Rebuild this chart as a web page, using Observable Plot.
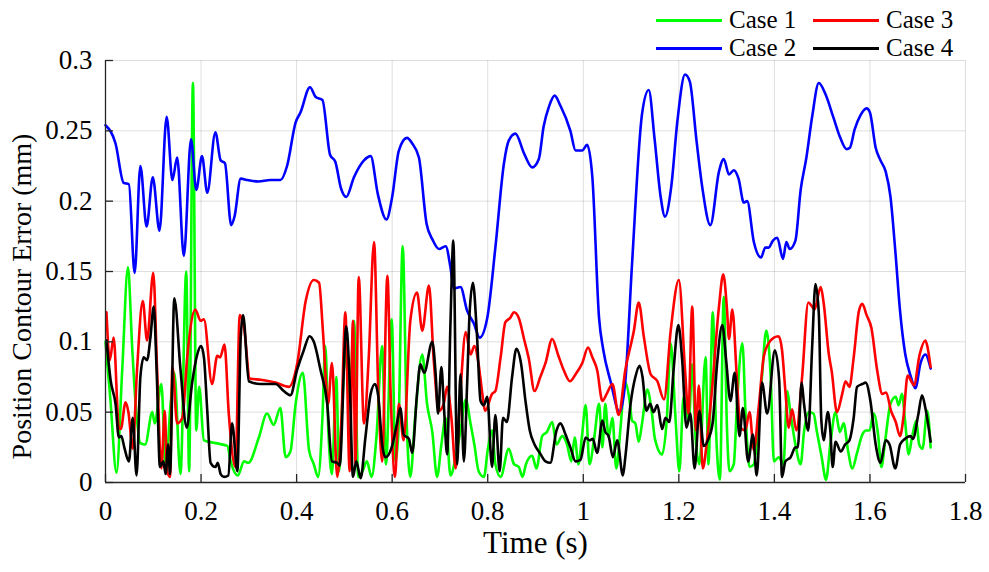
<!DOCTYPE html>
<html>
<head>
<meta charset="utf-8">
<script src="https://cdn.jsdelivr.net/npm/d3@7"></script>
<script src="https://cdn.jsdelivr.net/npm/@observablehq/plot@0.6"></script>
<style>
  html, body { margin: 0; padding: 0; background: #fff; }
  #wrap { position: relative; width: 989px; height: 572px; font-family: "Liberation Serif", "Times New Roman", serif; }
  #legend { position: absolute; left: 656px; top: 6px; display: grid; grid-template-columns: 157px auto; }
  .entry { display: flex; align-items: center; height: 28px; }
  .sw { display: inline-block; width: 66px; height: 0; border-top: 3px solid; margin-right: 7px; }
  .lab { font-size: 25px; line-height: 28px; color: #000; }
</style>
</head>
<body>
<div id="wrap">
  <div id="chart"></div>
  <div id="legend"></div>
</div>
<script>
const seriesNames = ["Case 1", "Case 2", "Case 3", "Case 4"];
const seriesColors = ["#00ff00", "#0000ff", "#ff0000", "#000000"];
const legendOrder = ["Case 1", "Case 3", "Case 2", "Case 4"];
const xTicks = [0, 0.2, 0.4, 0.6, 0.8, 1, 1.2, 1.4, 1.6, 1.8];
const yTicks = [0, 0.05, 0.1, 0.15, 0.2, 0.25, 0.3];
const xLabel = "Time (s)";
const yLabel = "Position Contour Error (mm)";

// Case 1 (green)
const case1T = [0.000,0.010,0.023,0.035,0.047,0.056,0.063,0.073,0.083,0.098,0.103,0.117,0.126,0.136,0.144,0.157,0.169,0.175,0.183,0.190,0.196,0.206,0.230,0.255,0.262,0.277,0.290,0.299,0.321,0.338,0.352,0.366,0.377,0.387,0.398,0.413,0.426,0.436,0.445,0.454,0.460,0.467,0.474,0.483,0.489,0.496,0.502,0.511,0.520,0.529,0.538,0.547,0.557,0.567,0.579,0.587,0.599,0.607,0.613,0.622,0.631,0.638,0.648,0.663,0.673,0.684,0.694,0.703,0.712,0.722,0.733,0.743,0.754,0.764,0.772,0.781,0.792,0.800,0.809,0.816,0.827,0.844,0.855,0.865,0.873,0.880,0.893,0.902,0.914,0.924,0.935,0.944,0.956,0.966,0.975,0.982,0.990,0.997,1.005,1.013,1.023,1.033,1.040,1.046,1.053,1.061,1.069,1.078,1.087,1.097,1.102,1.109,1.116,1.123,1.134,1.143,1.150,1.165,1.175,1.183,1.193,1.201,1.210,1.221,1.228,1.235,1.243,1.256,1.262,1.271,1.278,1.286,1.294,1.301,1.306,1.315,1.322,1.333,1.340,1.348,1.357,1.366,1.374,1.383,1.392,1.399,1.409,1.419,1.427,1.433,1.444,1.455,1.462,1.472,1.482,1.489,1.499,1.508,1.517,1.528,1.537,1.545,1.554,1.563,1.573,1.584,1.592,1.599,1.608,1.617,1.624,1.632,1.643,1.654,1.660,1.667,1.674,1.681,1.688,1.697,1.703,1.710,1.720,1.727];
const case1V = [0.100,0.060,0.007,0.080,0.153,0.095,0.056,0.028,0.027,0.050,0.042,0.070,0.008,0.055,0.078,0.006,0.150,0.008,0.284,0.037,0.068,0.030,0.028,0.026,0.015,0.005,0.015,0.014,0.032,0.049,0.041,0.053,0.018,0.022,0.056,0.078,0.023,0.013,0.004,0.046,0.097,0.032,0.006,0.075,0.008,0.060,0.094,0.060,0.115,0.004,0.008,0.015,0.004,0.032,0.097,0.013,0.116,0.015,0.036,0.168,0.037,0.004,0.046,0.091,0.056,0.036,0.004,0.027,0.046,0.005,0.018,0.037,0.059,0.042,0.027,0.008,0.004,0.023,0.037,0.013,0.004,0.024,0.013,0.011,0.004,0.013,0.019,0.010,0.033,0.036,0.043,0.027,0.033,0.027,0.015,0.032,0.013,0.032,0.055,0.013,0.032,0.056,0.025,0.056,0.032,0.046,0.010,0.039,0.072,0.058,0.044,0.042,0.029,0.042,0.066,0.051,0.031,0.020,0.046,0.099,0.046,0.008,0.061,0.044,0.084,0.032,0.013,0.089,0.013,0.121,0.036,0.002,0.132,0.036,0.008,0.013,0.058,0.099,0.046,0.011,0.013,0.039,0.075,0.108,0.077,0.015,0.018,0.013,0.065,0.051,0.027,0.013,0.036,0.050,0.049,0.036,0.018,0.002,0.027,0.050,0.036,0.042,0.023,0.010,0.021,0.034,0.037,0.037,0.049,0.034,0.011,0.030,0.056,0.061,0.055,0.063,0.042,0.020,0.032,0.044,0.027,0.024,0.051,0.025];

// Case 2 (blue)
const case2T = [0.000,0.021,0.038,0.049,0.061,0.073,0.086,0.099,0.113,0.128,0.140,0.150,0.164,0.179,0.190,0.202,0.213,0.230,0.241,0.250,0.263,0.270,0.283,0.297,0.320,0.345,0.366,0.380,0.398,0.408,0.428,0.440,0.454,0.470,0.481,0.493,0.504,0.520,0.541,0.555,0.570,0.588,0.600,0.614,0.631,0.642,0.656,0.672,0.684,0.698,0.712,0.722,0.729,0.743,0.757,0.771,0.783,0.799,0.816,0.834,0.844,0.858,0.876,0.893,0.907,0.917,0.928,0.940,0.952,0.973,0.984,0.998,1.008,1.019,1.033,1.042,1.057,1.076,1.088,1.102,1.123,1.137,1.149,1.162,1.171,1.184,1.197,1.213,1.223,1.237,1.249,1.266,1.284,1.294,1.305,1.315,1.325,1.336,1.343,1.357,1.372,1.381,1.388,1.397,1.406,1.418,1.425,1.432,1.444,1.455,1.467,1.479,1.493,1.507,1.524,1.538,1.551,1.558,1.568,1.580,1.593,1.600,1.612,1.622,1.633,1.643,1.653,1.663,1.674,1.685,1.695,1.706,1.716,1.727];
const case2V = [0.254,0.241,0.213,0.212,0.149,0.225,0.182,0.217,0.179,0.260,0.215,0.231,0.161,0.244,0.208,0.232,0.206,0.249,0.229,0.227,0.183,0.189,0.216,0.215,0.214,0.215,0.215,0.225,0.256,0.263,0.281,0.274,0.272,0.233,0.228,0.209,0.203,0.217,0.229,0.232,0.205,0.187,0.203,0.236,0.245,0.241,0.231,0.184,0.173,0.166,0.168,0.153,0.138,0.139,0.122,0.113,0.103,0.117,0.167,0.227,0.243,0.248,0.234,0.224,0.230,0.253,0.267,0.275,0.268,0.250,0.236,0.236,0.240,0.217,0.117,0.094,0.072,0.050,0.072,0.155,0.262,0.279,0.245,0.203,0.189,0.210,0.257,0.290,0.285,0.243,0.210,0.183,0.221,0.230,0.219,0.222,0.216,0.199,0.200,0.171,0.160,0.167,0.167,0.172,0.174,0.159,0.171,0.166,0.172,0.208,0.231,0.260,0.284,0.276,0.259,0.245,0.237,0.238,0.251,0.261,0.266,0.263,0.238,0.229,0.221,0.203,0.165,0.122,0.091,0.076,0.067,0.085,0.091,0.081];

// Case 3 (red)
const case3T = [0.002,0.009,0.017,0.028,0.032,0.042,0.048,0.057,0.066,0.078,0.087,0.100,0.108,0.117,0.124,0.129,0.135,0.140,0.150,0.161,0.171,0.188,0.199,0.206,0.223,0.234,0.240,0.249,0.258,0.272,0.281,0.290,0.302,0.325,0.356,0.384,0.401,0.419,0.436,0.447,0.455,0.466,0.474,0.485,0.494,0.502,0.511,0.518,0.523,0.530,0.541,0.551,0.562,0.571,0.579,0.590,0.597,0.606,0.614,0.624,0.638,0.652,0.663,0.677,0.687,0.698,0.708,0.715,0.724,0.733,0.743,0.754,0.764,0.772,0.781,0.788,0.795,0.809,0.816,0.827,0.837,0.847,0.855,0.865,0.876,0.886,0.898,0.910,0.921,0.935,0.947,0.959,0.972,0.984,0.998,1.010,1.019,1.029,1.040,1.049,1.061,1.074,1.088,1.106,1.116,1.127,1.141,1.155,1.169,1.183,1.200,1.213,1.220,1.228,1.236,1.242,1.250,1.259,1.270,1.284,1.293,1.301,1.305,1.312,1.321,1.329,1.339,1.348,1.357,1.367,1.378,1.388,1.399,1.409,1.416,1.423,1.430,1.437,1.446,1.458,1.471,1.479,1.484,1.497,1.503,1.514,1.520,1.531,1.542,1.549,1.557,1.566,1.577,1.584,1.593,1.603,1.615,1.626,1.634,1.644,1.654,1.663,1.670,1.679,1.688,1.692,1.704,1.716,1.720,1.727];
const case3V = [0.121,0.087,0.103,0.039,0.038,0.057,0.050,0.024,0.080,0.129,0.101,0.149,0.080,0.010,0.051,0.008,0.004,0.082,0.042,0.046,0.089,0.123,0.115,0.116,0.070,0.090,0.089,0.098,0.049,0.011,0.119,0.110,0.074,0.073,0.071,0.068,0.084,0.129,0.144,0.142,0.108,0.056,0.085,0.004,0.046,0.121,0.008,0.115,0.013,0.146,0.042,0.089,0.171,0.065,0.015,0.147,0.061,0.004,0.056,0.030,0.115,0.135,0.108,0.140,0.087,0.051,0.056,0.068,0.046,0.010,0.065,0.107,0.091,0.097,0.084,0.065,0.051,0.063,0.065,0.089,0.114,0.117,0.121,0.117,0.102,0.088,0.065,0.075,0.085,0.102,0.091,0.080,0.072,0.077,0.085,0.096,0.089,0.080,0.058,0.063,0.070,0.048,0.080,0.108,0.128,0.103,0.077,0.072,0.059,0.108,0.144,0.080,0.049,0.125,0.037,0.069,0.010,0.030,0.068,0.125,0.148,0.122,0.102,0.123,0.077,0.039,0.037,0.050,0.023,0.053,0.090,0.099,0.103,0.104,0.094,0.065,0.039,0.052,0.037,0.075,0.128,0.125,0.123,0.139,0.128,0.091,0.079,0.050,0.063,0.072,0.068,0.089,0.122,0.127,0.119,0.110,0.080,0.063,0.064,0.051,0.043,0.033,0.046,0.076,0.071,0.069,0.091,0.101,0.097,0.082];

// Case 4 (black)
const case4T = [0.002,0.011,0.021,0.028,0.033,0.040,0.049,0.057,0.065,0.073,0.080,0.087,0.094,0.101,0.107,0.114,0.121,0.126,0.131,0.135,0.144,0.157,0.170,0.181,0.192,0.200,0.206,0.213,0.220,0.230,0.235,0.241,0.248,0.257,0.265,0.276,0.283,0.288,0.300,0.324,0.356,0.373,0.387,0.401,0.415,0.427,0.436,0.450,0.464,0.474,0.485,0.490,0.504,0.511,0.518,0.525,0.534,0.544,0.555,0.564,0.571,0.579,0.586,0.599,0.610,0.617,0.624,0.635,0.642,0.652,0.659,0.667,0.684,0.691,0.696,0.703,0.708,0.715,0.722,0.728,0.736,0.743,0.750,0.757,0.762,0.769,0.777,0.785,0.792,0.799,0.809,0.816,0.825,0.832,0.840,0.851,0.860,0.870,0.879,0.888,0.898,0.909,0.921,0.931,0.944,0.952,0.963,0.973,0.984,0.994,1.005,1.013,1.020,1.029,1.040,1.046,1.053,1.062,1.071,1.083,1.088,1.099,1.109,1.118,1.124,1.132,1.140,1.147,1.155,1.165,1.172,1.180,1.189,1.199,1.207,1.216,1.224,1.233,1.243,1.252,1.262,1.271,1.280,1.291,1.299,1.308,1.317,1.327,1.334,1.345,1.355,1.363,1.374,1.385,1.401,1.410,1.416,1.423,1.434,1.444,1.449,1.457,1.462,1.471,1.479,1.486,1.493,1.498,1.503,1.512,1.517,1.522,1.528,1.539,1.548,1.557,1.566,1.573,1.584,1.591,1.601,1.612,1.622,1.633,1.641,1.653,1.663,1.673,1.685,1.690,1.701,1.709,1.716,1.727];
const case4V = [0.101,0.072,0.056,0.032,0.033,0.024,0.015,0.046,0.005,0.075,0.089,0.087,0.103,0.125,0.080,0.011,0.015,0.006,0.027,0.006,0.131,0.080,0.039,0.070,0.091,0.097,0.089,0.051,0.014,0.011,0.014,0.006,0.004,0.005,0.042,0.008,0.103,0.119,0.072,0.070,0.070,0.065,0.062,0.080,0.094,0.104,0.100,0.080,0.056,0.015,0.014,0.012,0.111,0.072,0.004,0.015,0.003,0.032,0.063,0.070,0.061,0.027,0.018,0.025,0.042,0.053,0.034,0.031,0.021,0.063,0.084,0.078,0.100,0.077,0.049,0.082,0.056,0.020,0.113,0.172,0.013,0.077,0.015,0.071,0.120,0.142,0.108,0.058,0.055,0.061,0.011,0.048,0.008,0.046,0.043,0.075,0.095,0.084,0.058,0.037,0.027,0.021,0.015,0.014,0.037,0.042,0.034,0.025,0.015,0.016,0.032,0.030,0.031,0.021,0.044,0.036,0.033,0.018,0.030,0.005,0.018,0.056,0.075,0.083,0.075,0.051,0.056,0.050,0.055,0.038,0.046,0.043,0.080,0.112,0.087,0.039,0.049,0.010,0.051,0.026,0.031,0.043,0.084,0.112,0.087,0.058,0.078,0.033,0.053,0.015,0.034,0.005,0.071,0.049,0.094,0.073,0.004,0.015,0.018,0.025,0.025,0.071,0.056,0.037,0.096,0.141,0.120,0.046,0.030,0.050,0.037,0.011,0.029,0.022,0.027,0.030,0.046,0.068,0.070,0.071,0.058,0.027,0.014,0.030,0.027,0.010,0.027,0.031,0.033,0.031,0.048,0.062,0.053,0.029];

const seriesT = [case1T, case2T, case3T, case4T];
const seriesV = [case1V, case2V, case3V, case4V];
const tables = seriesNames.map((name, i) => seriesT[i].map((t, j) => ({series: name, t, v: seriesV[i][j]})));

const fmt = d3.format("~g");
const axisColor = "#262626";

const chart = Plot.plot({
  width: 989,
  height: 572,
  marginLeft: 105,
  marginRight: 24,
  marginTop: 60,
  marginBottom: 90,
  style: {fontFamily: "'Liberation Serif', 'Times New Roman', serif", fontSize: "27px", color: "#000", background: "#fff"},
  x: {domain: [0, 1.8]},
  y: {domain: [0, 0.3]},
  marks: [
    Plot.gridX(xTicks, {stroke: "#000", strokeOpacity: 0.13, strokeWidth: 1}),
    Plot.gridY(yTicks, {stroke: "#000", strokeOpacity: 0.13, strokeWidth: 1}),
    ...tables.map((data, i) => Plot.line(data, {x: "t", y: "v", stroke: seriesColors[i], strokeWidth: 2.6, curve: "monotone-x"})),
    Plot.ruleY([0], {stroke: axisColor, strokeWidth: 1.3}),
    Plot.ruleX([0], {stroke: axisColor, strokeWidth: 1.3}),
    Plot.tickX(xTicks, {x: d => d, insetTop: 414, stroke: axisColor, strokeWidth: 1.3}),
    Plot.tickY(yTicks, {y: d => d, insetRight: 852, stroke: axisColor, strokeWidth: 1.3}),
    Plot.axisX(xTicks, {tickSize: 0, tickPadding: 18, tickFormat: fmt, label: null, fontSize: 27, fill: "#000"}),
    Plot.axisY(yTicks, {tickSize: 0, tickPadding: 13, tickFormat: fmt, label: null, fontSize: 27, fill: "#000"}),
    Plot.text([xLabel], {frameAnchor: "bottom", dy: 70, fontSize: 31, fill: "#000", text: d => d}),
    Plot.text([yLabel], {frameAnchor: "left", textAnchor: "middle", dx: -83, dy: 25, rotate: -90, fontSize: 28, fill: "#000", text: d => d})
  ]
});
document.getElementById("chart").appendChild(chart);

const legend = document.getElementById("legend");
for (const name of legendOrder) {
  const i = seriesNames.indexOf(name);
  const e = document.createElement("div");
  e.className = "entry";
  const sw = document.createElement("span");
  sw.className = "sw";
  sw.style.borderTopColor = seriesColors[i];
  const lab = document.createElement("span");
  lab.className = "lab";
  lab.textContent = name;
  e.appendChild(sw);
  e.appendChild(lab);
  legend.appendChild(e);
}
</script>
</body>
</html>
